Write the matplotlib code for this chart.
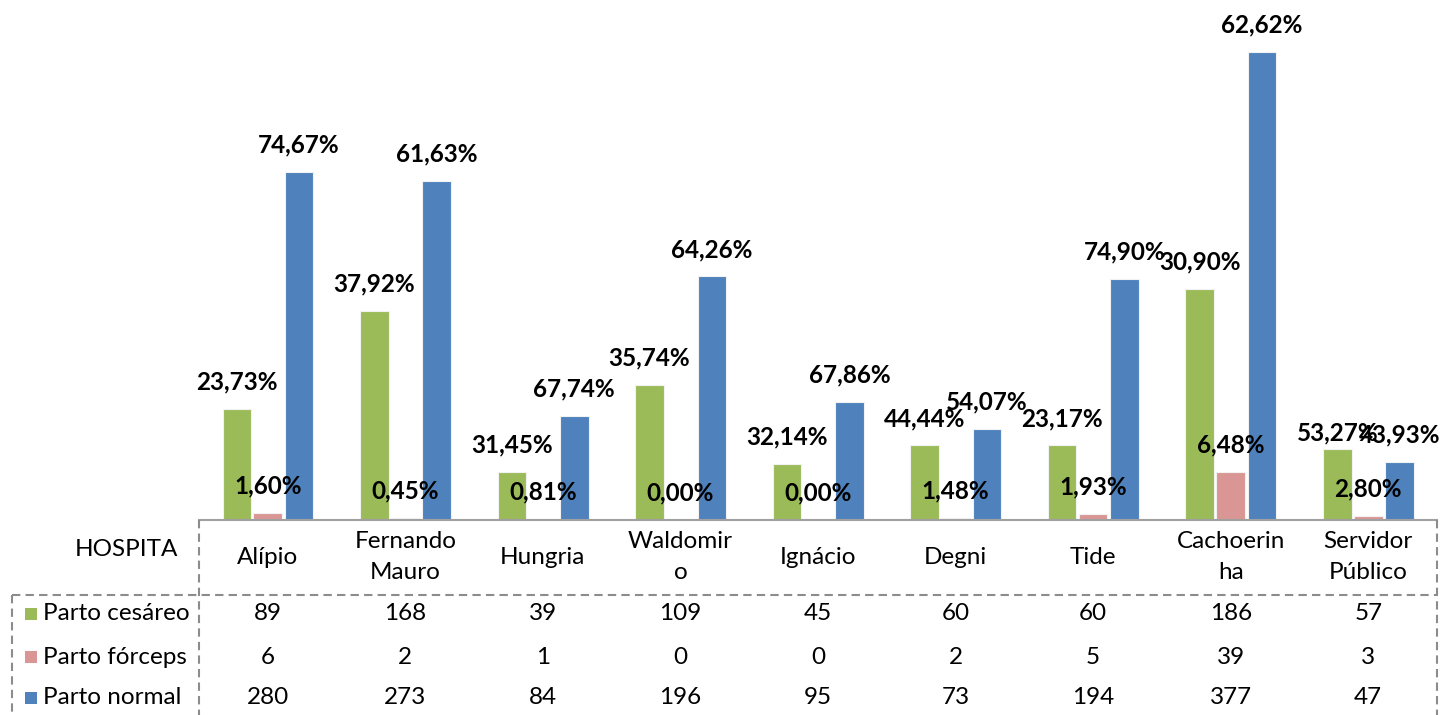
import matplotlib
matplotlib.use('Agg')
import matplotlib.pyplot as plt
from matplotlib.transforms import blended_transform_factory
from matplotlib.lines import Line2D
from matplotlib.patches import Rectangle

# ---------------- data ----------------
categories = ["Alípio", "Fernando\nMauro", "Hungria", "Waldomir\no", "Ignácio",
              "Degni", "Tide", "Cachoerin\nha", "Servidor\nPúblico"]
series_names = ["Parto cesáreo", "Parto fórceps", "Parto normal"]
cesareo = [89, 168, 39, 109, 45, 60, 60, 186, 57]
forceps = [6, 2, 1, 0, 0, 2, 5, 39, 3]
normal = [280, 273, 84, 196, 95, 73, 194, 377, 47]
pct_cesareo = ["23,73%", "37,92%", "31,45%", "35,74%", "32,14%", "44,44%", "23,17%", "30,90%", "53,27%"]
pct_forceps = ["1,60%", "0,45%", "0,81%", "0,00%", "0,00%", "1,48%", "1,93%", "6,48%", "2,80%"]
pct_normal = ["74,67%", "61,63%", "67,74%", "64,26%", "67,86%", "54,07%", "74,90%", "62,62%", "43,93%"]
corner_label = "HOSPITA"

# ---------------- style ----------------
colors = ["#9BBB59", "#D99694", "#4F81BD"]
FONT = "Lato"
W, H = 1441, 715
fig = plt.figure(figsize=(W / 100, H / 100), dpi=100)

def fx(px):
    return px / W

def fy(py):
    return 1 - py / H

x_left, x_right = 199, 1437
y_base, y_top = 520, 23
ax = fig.add_axes([fx(x_left), fy(y_base), fx(x_right) - fx(x_left), fy(y_top) - fy(y_base)])
ax.set_xlim(0, len(categories))
ax.set_ylim(0, 400)
ax.axis('off')

series = [cesareo, forceps, normal]
pcts = [pct_cesareo, pct_forceps, pct_normal]
offsets = [-0.225, 0.0, 0.228]
bw = 0.208
nudges = {(0, 8): (0, 16)}
LABEL_FS = 17.5
TABLE_FS = 17.5

for s, (vals, labs) in enumerate(zip(series, pcts)):
    for i, (v, lab) in enumerate(zip(vals, labs)):
        x = i + 0.5 + offsets[s]
        ax.bar(x, v, width=bw, color=colors[s], edgecolor='#f2f2f2', linewidth=0.8, zorder=2)
        dx, dy = nudges.get((s, i), (0, 27))
        ax.annotate(lab, (x, v), xytext=(dx, dy), textcoords='offset pixels',
                    ha='center', va='center', fontsize=LABEL_FS, fontweight='bold',
                    family=FONT, color='black', zorder=5)

# ---------------- data table ----------------
tb = blended_transform_factory(ax.transData, fig.transFigure)
dash_kw = dict(color='#8c8c8c', lw=1.5, linestyle=(0, (4, 2.5)))

# axis baseline
fig.add_artist(Line2D([fx(x_left), fx(x_right)], [fy(y_base), fy(y_base)],
                      color='#a0a0a0', lw=1.5, transform=fig.transFigure))
# verticals
for xp in (x_left, x_right):
    fig.add_artist(Line2D([fx(xp), fx(xp)], [fy(y_base), fy(H + 5)],
                          transform=fig.transFigure, **dash_kw))
fig.add_artist(Line2D([fx(12), fx(12)], [fy(595), fy(H + 5)],
                      transform=fig.transFigure, **dash_kw))
# horizontal separator
fig.add_artist(Line2D([fx(12), fx(x_right)], [fy(595), fy(595)],
                      transform=fig.transFigure, **dash_kw))

# header row
for i, c in enumerate(categories):
    ax.text(i + 0.5, fy(557), c, transform=tb, ha='center', va='center',
            fontsize=TABLE_FS, family=FONT, linespacing=1.55, clip_on=False)
fig.text(fx(126), fy(550), corner_label, ha='center', va='center', fontsize=TABLE_FS, family=FONT)

# value rows
row_y = [614, 657, 698]
for r, (name, vals) in enumerate(zip(series_names, series)):
    fig.patches.append(Rectangle((fx(25), fy(row_y[r] + 6)), fx(12), 12 / H,
                                 facecolor=colors[r], edgecolor='none',
                                 transform=fig.transFigure))
    fig.text(fx(43), fy(row_y[r]), name, ha='left', va='center', fontsize=TABLE_FS, family=FONT)
    for i, v in enumerate(vals):
        ax.text(i + 0.5, fy(row_y[r]), str(v), transform=tb, ha='center', va='center',
                fontsize=TABLE_FS, family=FONT, clip_on=False)

fig.savefig("out.png", dpi=100)
